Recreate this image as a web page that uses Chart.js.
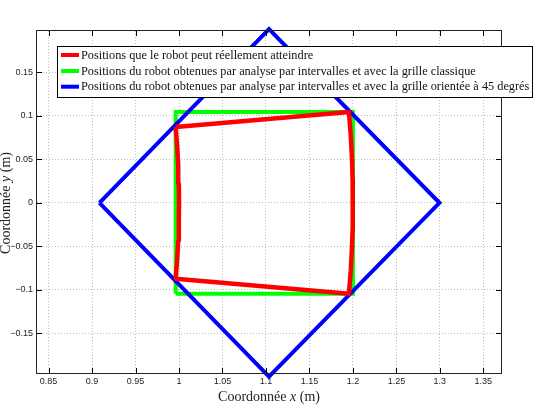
<!DOCTYPE html>
<html>
<head>
<meta charset="utf-8">
<script src="https://cdn.jsdelivr.net/npm/chart.js@4/dist/chart.umd.min.js"></script>
<style>
html,body{margin:0;padding:0;background:#fff;}
canvas{display:block;}
</style>
</head>
<body>
<canvas id="c" width="541" height="410"></canvas>
<script>
// ---- data ----
const seriesNames = [
  "Positions que le robot peut réellement atteindre",
  "Positions du robot obtenues par analyse par intervalles et avec la grille classique",
  "Positions du robot obtenues par analyse par intervalles et avec la grille orientée à 45 degrés"
];
const redX = [0.9962, 1.1954, 1.1975, 1.1989, 1.1997, 1.2000, 1.1997, 1.1989, 1.1975, 1.1954, 0.9962, 0.9979, 0.9991, 0.9998, 1.0000, 0.9998, 0.9991, 0.9979, 0.9962];
const redY = [0.0872, 0.1046, 0.0780, 0.0520, 0.0260, 0.0000, -0.0260, -0.0520, -0.0780, -0.1046, -0.0872, -0.0650, -0.0435, -0.0220, 0.0000, 0.0220, 0.0435, 0.0650, 0.0872];
const greenX = [0.9962, 1.2000, 1.2000, 0.9962, 0.9962];
const greenY = [-0.1046, -0.1046, 0.1046, 0.1046, -0.1046];
const blueX = [0.9085, 1.1035, 1.2995, 1.1035, 0.9085];
const blueY = [0.0000, 0.2000, 0.0000, -0.2000, 0.0000];
const xTicks = [0.85, 0.9, 0.95, 1, 1.05, 1.1, 1.15, 1.2, 1.25, 1.3, 1.35];
const xTickLabels = ["0.85", "0.9", "0.95", "1", "1.05", "1.1", "1.15", "1.2", "1.25", "1.3", "1.35"];
const yTicks = [-0.15, -0.1, -0.05, 0, 0.05, 0.1, 0.15];
const yTickLabels = ["\u22120.15", "\u22120.1", "\u22120.05", "0", "0.05", "0.1", "0.15"];
const xLimits = [0.8367, 1.3703];
const yLimits = [-0.1957, 0.1977];
const xTitle = ["Coordonnée ", "x", " (m)"];
const yTitle = ["Coordonnée ", "y", " (m)"];

const colors = ["#ff0000", "#00ff00", "#0000ff"];
const toPts = (xs, ys) => xs.map((v, i) => ({x: v, y: ys[i]}));

const overlay = {
  id: 'overlay',
  afterDraw(chart) {
    const {ctx, chartArea: a, scales: {x, y}} = chart;
    ctx.save();
    // ticks inward
    ctx.strokeStyle = '#000';
    ctx.lineWidth = 1;
    ctx.beginPath();
    x.ticks.forEach(t => {
      const px = Math.round(x.getPixelForValue(t.value)) + 0.5;
      ctx.moveTo(px, a.bottom); ctx.lineTo(px, a.bottom - 5);
      ctx.moveTo(px, a.top); ctx.lineTo(px, a.top + 5);
    });
    y.ticks.forEach(t => {
      const py = Math.round(y.getPixelForValue(t.value)) + 0.5;
      ctx.moveTo(a.left, py); ctx.lineTo(a.left + 5, py);
      ctx.moveTo(a.right, py); ctx.lineTo(a.right - 5, py);
    });
    ctx.stroke();
    // frame
    ctx.strokeStyle = '#222';
    ctx.strokeRect(Math.round(a.left) - 0.5, Math.round(a.top) - 0.5, Math.round(a.width) + 1, Math.round(a.height) + 1);

    // legend
    const lx = 57.5, ly = 46.5, lw = 475, lh = 51;
    ctx.fillStyle = '#fff';
    ctx.fillRect(lx, ly, lw, lh);
    ctx.strokeStyle = '#000';
    ctx.lineWidth = 1;
    ctx.strokeRect(lx, ly, lw, lh);
    const rows = [55, 71, 86.7];
    ctx.font = '12.3px "Liberation Serif", serif';
    ctx.textBaseline = 'middle';
    ctx.textAlign = 'left';
    seriesNames.forEach((n, i) => {
      ctx.strokeStyle = colors[i];
      ctx.lineWidth = 4;
      ctx.beginPath();
      ctx.moveTo(61, rows[i]); ctx.lineTo(79, rows[i]);
      ctx.stroke();
      ctx.fillStyle = '#111';
      ctx.fillText(n, 81, rows[i] + 0.5);
    });

    // axis titles
    const drawTitle = (parts, size) => {
      const fN = size + 'px "Liberation Serif", serif';
      const fI = 'italic ' + size + 'px "Liberation Serif", serif';
      const fonts = [fN, fI, fN];
      let widths = parts.map((p, i) => { ctx.font = fonts[i]; return ctx.measureText(p).width; });
      const total = widths.reduce((s, w) => s + w, 0);
      let cx = -total / 2;
      parts.forEach((p, i) => { ctx.font = fonts[i]; ctx.fillText(p, cx, 0); cx += widths[i]; });
    };
    ctx.fillStyle = '#222';
    ctx.textAlign = 'left';
    ctx.textBaseline = 'alphabetic';
    ctx.save();
    ctx.translate(269, 401);
    drawTitle(xTitle, 14);
    ctx.restore();
    ctx.save();
    ctx.translate(10, 203);
    ctx.rotate(-Math.PI / 2);
    drawTitle(yTitle, 14);
    ctx.restore();
    ctx.restore();
  }
};

new Chart(document.getElementById('c'), {
  type: 'scatter',
  data: {
    datasets: [
      {label: seriesNames[0], data: toPts(redX, redY), borderColor: colors[0], borderWidth: 4.5, order: 0, borderJoinStyle: 'round'},
      {label: seriesNames[1], data: toPts(greenX, greenY), borderColor: colors[1], borderWidth: 4, order: 2, borderJoinStyle: 'miter'},
      {label: seriesNames[2], data: toPts(blueX, blueY), borderColor: colors[2], borderWidth: 4, order: 1, borderJoinStyle: 'miter'}
    ].map(d => Object.assign(d, {showLine: true, pointRadius: 0, pointHoverRadius: 0, tension: 0, fill: false, clip: false, backgroundColor: d.borderColor}))
  },
  options: {
    responsive: false,
    animation: false,
    devicePixelRatio: 1,
    layout: {padding: {left: 0, top: 31, right: 40, bottom: 0}},
    plugins: {legend: {display: false}, tooltip: {enabled: false}},
    scales: {
      x: {
        type: 'linear', min: xLimits[0], max: xLimits[1],
        afterFit(s) { s.height = 37; },
        afterBuildTicks(s) { s.ticks = xTicks.map(v => ({value: v})); },
        ticks: {callback: (v, i) => xTickLabels[i], padding: 3, maxRotation: 0, autoSkip: false, color: '#222', font: {family: '"Liberation Sans", Arial, sans-serif', size: 9}},
        grid: {color: '#bdbdbd', lineWidth: 1, drawTicks: false, borderDash: [1, 2]},
        border: {display: false, dash: [1, 2]}
      },
      y: {
        type: 'linear', min: yLimits[0], max: yLimits[1],
        afterFit(s) { s.width = 37; },
        afterBuildTicks(s) { s.ticks = yTicks.map(v => ({value: v})); },
        ticks: {callback: (v, i) => yTickLabels[i], padding: 4, autoSkip: false, color: '#222', font: {family: '"Liberation Sans", Arial, sans-serif', size: 9}},
        grid: {color: '#bdbdbd', lineWidth: 1, drawTicks: false, borderDash: [1, 2]},
        border: {display: false, dash: [1, 2]}
      }
    }
  },
  plugins: [overlay]
});
</script>
</body>
</html>
